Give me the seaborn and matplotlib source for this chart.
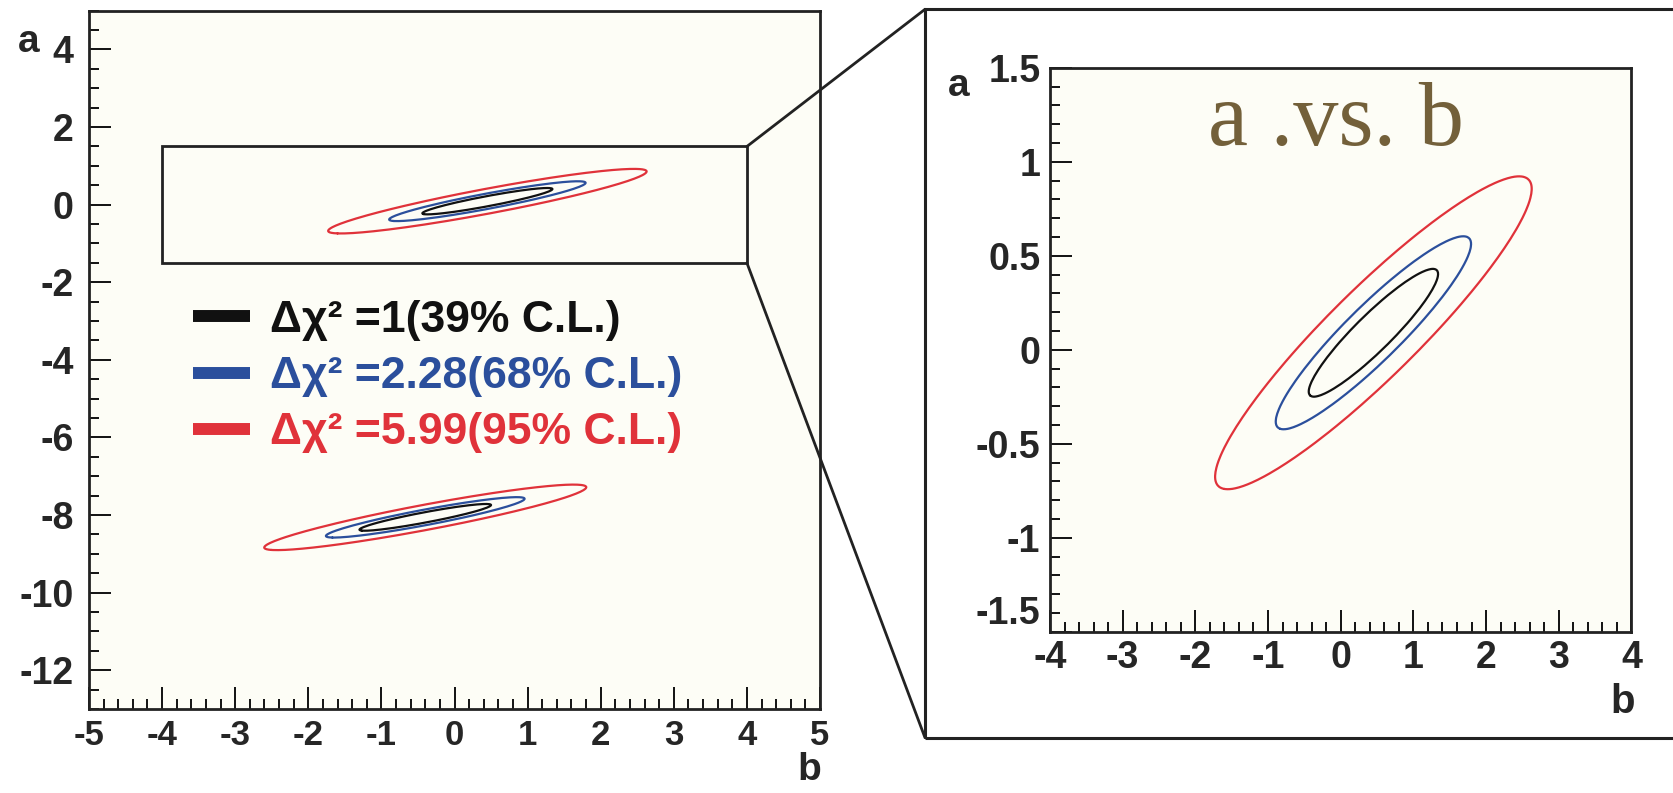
import numpy as np
import pandas as pd
import matplotlib
matplotlib.use("Agg")
import matplotlib.pyplot as plt
import seaborn as sns
from matplotlib.ticker import MultipleLocator, FormatStrFormatter
from matplotlib.patches import Rectangle, ConnectionPatch
from matplotlib.lines import Line2D
import contourpy

# --- fit results: two minima of chi^2 in the (b, a) plane -------------------
min_b = [0.45, -0.40]
min_a = [0.09, -8.06]
sig_b = [0.89, 0.90]
sig_a = [0.34, 0.345]
rho = [0.92, 0.92]

levels = [1.0, 2.28, 5.99]
level_labels = ["Δχ² =1(39% C.L.)", "Δχ² =2.28(68% C.L.)", "Δχ² =5.99(95% C.L.)"]
level_colors = ["#111111", "#2b4f9c", "#e0323a"]

left_xticks = [-5, -4, -3, -2, -1, 0, 1, 2, 3, 4, 5]
left_yticks = [-12, -10, -8, -6, -4, -2, 0, 2, 4]
right_xticks = [-4, -3, -2, -1, 0, 1, 2, 3, 4]
right_yticks = [-1.5, -1, -0.5, 0, 0.5, 1, 1.5]
title_text = "a .vs. b"

# --- style ------------------------------------------------------------------
sns.set_theme(style="ticks")
plt.rcParams["font.family"] = ["Liberation Sans", "DejaVu Sans"]
plt.rcParams["font.weight"] = "bold"
plt.rcParams["axes.unicode_minus"] = False
BG = "#fdfdf6"

W, H = 1673, 793
fig = plt.figure(figsize=(W / 100, H / 100), dpi=100)
fig.patch.set_facecolor("white")


def fbox(x0, y0, x1, y1):
    return [x0 / W, 1 - y1 / H, (x1 - x0) / W, (y1 - y0) / H]


ax1 = fig.add_axes(fbox(89, 10.7, 820, 709))
ax2 = fig.add_axes(fbox(1050, 67.7, 1631.4, 631.7))

# --- chi^2 surface ----------------------------------------------------------
bb = np.linspace(-5, 5, 1001)
aa = np.linspace(-13, 5, 1801)
B, A = np.meshgrid(bb, aa)
chi2 = np.full(B.shape, np.inf)
for b0, a0, sb, sa, r in zip(min_b, min_a, sig_b, sig_a, rho):
    u = (B - b0) / sb
    v = (A - a0) / sa
    q = (u * u - 2 * r * u * v + v * v) / (1 - r * r)
    chi2 = np.minimum(chi2, q)

gen = contourpy.contour_generator(bb, aa, chi2)
rows = []
for lvl, lab in zip(levels, level_labels):
    for k, seg in enumerate(gen.lines(lvl)):
        for i, (x, y) in enumerate(seg):
            rows.append((lab, f"{lab}-{k}", i, x, y))
contours = pd.DataFrame(rows, columns=["level", "curve", "order", "b", "a"])

palette = dict(zip(level_labels, level_colors))
for ax in (ax1, ax2):
    ax.set_facecolor(BG)
    sns.lineplot(data=contours, x="b", y="a", hue="level", units="curve",
                 estimator=None, sort=False, palette=palette, linewidth=1.6,
                 legend=False, ax=ax)

# --- axes cosmetics ---------------------------------------------------------
def style_axes(ax, xt, yt, xminor, yminor, xlim, ylim,
               xsize, ysize, xpad, ypad):
    ax.set_xlim(*xlim)
    ax.set_ylim(*ylim)
    ax.set_xticks(xt)
    ax.set_yticks(yt)
    ax.xaxis.set_minor_locator(MultipleLocator(xminor))
    ax.yaxis.set_minor_locator(MultipleLocator(yminor))
    ax.yaxis.set_major_formatter(FormatStrFormatter("%g"))
    ax.xaxis.set_major_formatter(FormatStrFormatter("%g"))
    ax.tick_params(which="both", direction="in", top=False, right=False,
                   color="#111111", width=1.4)
    ax.tick_params(which="major", length=15.5)
    ax.tick_params(which="minor", length=7.2)
    ax.tick_params(axis="x", pad=xpad, labelsize=xsize)
    ax.tick_params(axis="y", pad=ypad, labelsize=ysize)
    for lab in ax.get_xticklabels() + ax.get_yticklabels():
        lab.set_fontweight("bold")
    for s in ax.spines.values():
        s.set_linewidth(2.0)
        s.set_color("#222222")
        s.set_visible(True)
    ax.set_xlabel("")
    ax.set_ylabel("")


style_axes(ax1, left_xticks, left_yticks, 0.2, 0.5, (-5, 5), (-13, 5),
           25, 27, 7, 11)
style_axes(ax2, right_xticks, right_yticks, 0.2, 0.1, (-4, 4), (-1.5, 1.5),
           27, 27, 6, 7)

# keep the lowest y label of the zoomed panel clear of the first x label
ax2.get_yticklabels()[0].set_va("bottom")

ax1.text(-0.068, 0.955, "a", transform=ax1.transAxes, fontsize=28,
         fontweight="bold", ha="right", va="center")
ax1.text(0.985, -0.087, "b", transform=ax1.transAxes, fontsize=28,
         fontweight="bold", ha="center", va="center")
ax2.text(-0.175, 1.0, "a", transform=ax2.transAxes, fontsize=28,
         fontweight="bold", ha="left", va="top")
ax2.text(0.985, -0.125, "b", transform=ax2.transAxes, fontsize=29,
         fontweight="bold", ha="center", va="center")

ax2.text(0.492, 0.863, title_text, transform=ax2.transAxes, fontsize=65,
         family="Liberation Serif", fontweight="normal", color="#73603a",
         ha="center", va="baseline")

# --- legend -----------------------------------------------------------------
handles = [Line2D([0], [0], color=c, linewidth=8.6, solid_capstyle="butt")
           for c in level_colors]
leg = ax1.legend(handles, level_labels, loc="upper left",
                 bbox_to_anchor=(193 / W, 1 - 300 / H),
                 bbox_transform=fig.transFigure, frameon=False,
                 prop={"size": 32, "weight": "bold"}, handlelength=1.29,
                 handletextpad=0.45, labelspacing=0.34, borderpad=0,
                 borderaxespad=0)
for txt, c in zip(leg.get_texts(), level_colors):
    txt.set_color(c)

# --- zoom window and its frame ----------------------------------------------
ax1.add_patch(Rectangle((-4, -1.5), 8, 3, fill=False, edgecolor="#222222",
                        linewidth=2.0, zorder=5))

fig.patches.append(Rectangle((925 / W, 1 - 737.7 / H), (W + 5 - 925) / W,
                             (737.7 - 9.3) / H, transform=fig.transFigure,
                             fill=False, edgecolor="#222222", linewidth=2.2,
                             figure=fig))

for ya, yf in ((1.5, 9.3), (-1.5, 737.7)):
    con = ConnectionPatch(xyA=(4, ya), coordsA=ax1.transData,
                          xyB=(925 / W, 1 - yf / H), coordsB=fig.transFigure,
                          color="#222222", linewidth=2.0)
    fig.add_artist(con)

fig.savefig("out.png", dpi=100, facecolor="white")
